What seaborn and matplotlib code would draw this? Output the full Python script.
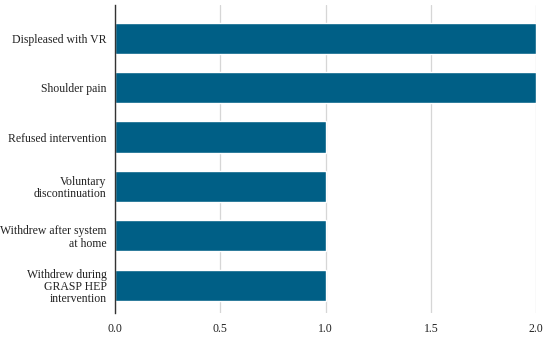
import matplotlib
matplotlib.use("Agg")
import matplotlib.pyplot as plt
import pandas as pd
import seaborn as sns

categories = [
    "Displeased with VR",
    "Shoulder pain",
    "Refused intervention",
    "Voluntary\ndiscontinuation",
    "Withdrew after system\nat home",
    "Withdrew during\nGRASP HEP\nintervention",
]
counts = [2, 2, 1, 1, 1, 1]
xticks = [0.0, 0.5, 1.0, 1.5, 2.0]

df = pd.DataFrame({"reason": categories, "count": counts})

sns.set_theme(style="white")
plt.rcParams["font.family"] = ["Liberation Serif", "DejaVu Serif"]

fig = plt.figure(figsize=(5.5, 3.39), dpi=100)
ax = fig.add_axes([0.209, 0.077, 0.766, 0.908])

sns.barplot(data=df, x="count", y="reason", color="#005f86", saturation=1,
            width=0.63, ax=ax, zorder=2)

ax.set_xlim(0, 2.0)
ax.set_ylim(5.56, -0.67)
ax.set_xticks(xticks)
ax.set_xticklabels([f"{t:.1f}" for t in xticks])
ax.xaxis.grid(True, color="#d6d6d6", linewidth=0.9, zorder=0)
ax.yaxis.grid(False)
ax.set_axisbelow(True)
ax.set_xlabel("")
ax.set_ylabel("")
ax.tick_params(axis="both", length=0, labelsize=8.5, colors="#222222")
ax.tick_params(axis="y", pad=6)
ax.tick_params(axis="x", pad=7)
for lbl in ax.get_yticklabels():
    lbl.set_horizontalalignment("right")
    lbl.set_multialignment("right")
    lbl.set_linespacing(1.05)
for side in ["top", "right", "bottom"]:
    ax.spines[side].set_visible(False)
ax.spines["left"].set_color("#333333")
ax.spines["left"].set_linewidth(1)
ax.spines["left"].set_zorder(5)

fig.savefig("out.png", dpi=100)
